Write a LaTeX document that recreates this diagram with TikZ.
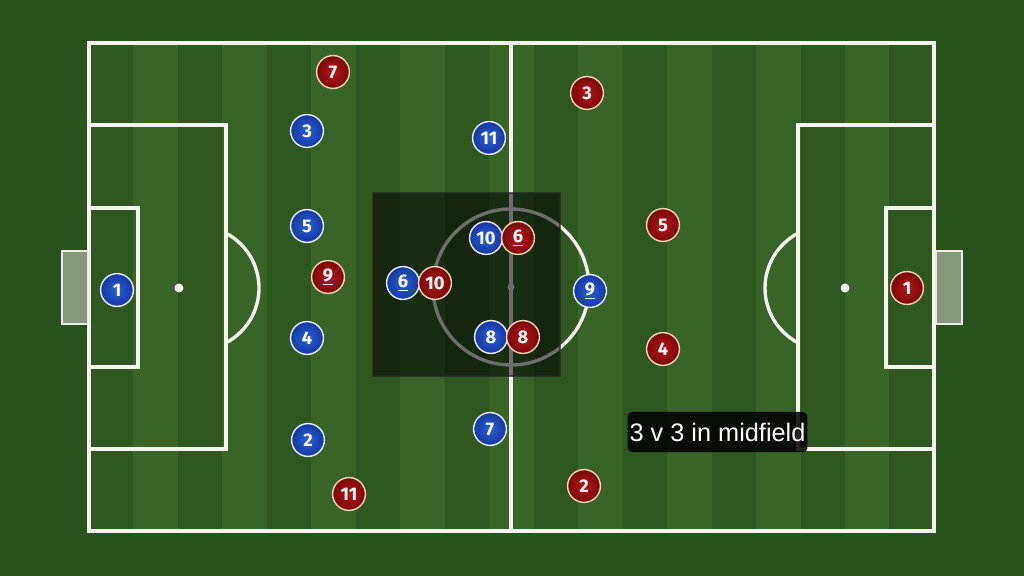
\documentclass[tikz,border=0pt]{standalone}
\usepackage{fontspec}
\setmainfont{Liberation Sans}
\newfontfamily\numfont{Fira Sans}
\definecolor{turf}{HTML}{2A521D}
\definecolor{turfdark}{HTML}{2E5820}
\definecolor{turflight}{HTML}{386428}
\definecolor{chalk}{HTML}{F4F6EE}
\definecolor{homein}{HTML}{2A5FD8}
\definecolor{homeout}{HTML}{1638A0}
\definecolor{awayin}{HTML}{B5141A}
\definecolor{awayout}{HTML}{7A0808}
\definecolor{awayrim}{HTML}{F1D3B6}

\begin{document}
\begin{tikzpicture}[x=0.025cm,y=-0.025cm,
    pitchline/.style={draw=chalk,line width=2.4pt},
    net/.style={draw=white!85!gray,line width=1pt,fill=white!90!gray,fill opacity=.45},
    player/.style={circle,minimum size=0.82cm,inner sep=0pt,line width=1pt,
        text=white,font=\numfont\bfseries\fontsize{13}{14}\selectfont},
    home/.style={player,draw=white!92!blue,inner color=homein,outer color=homeout},
    away/.style={player,draw=awayrim,inner color=awayin,outer color=awayout}]

    % grass
    \fill[turf] (0,0) rectangle (1024,576);
    \fill[turfdark] (89,43) rectangle (934,531);
    \foreach \i in {1,3,...,17}
        \fill[turflight] ({89+44.47*\i},43) rectangle ({89+44.47*(\i+1)},531);

    % markings
    \draw[pitchline] (89,43) rectangle (934,531);
    \draw[pitchline] (511,43) -- (511,531);
    \draw[pitchline] (511,287) circle[radius=78];
    \fill[chalk] (511,287) circle[radius=3.5];
    \draw[pitchline] (89,125) rectangle (226,449);
    \draw[pitchline] (89,208) rectangle (138,367);
    \draw[pitchline] (798,125) rectangle (934,449);
    \draw[pitchline] (886,208) rectangle (934,367);
    \fill[chalk] (179,288) circle[radius=4.5];
    \fill[chalk] (845,288) circle[radius=4.5];
    \begin{scope}
        \clip (226,0) rectangle (400,576);
        \draw[pitchline] (197,288) circle[radius=62];
    \end{scope}
    \begin{scope}
        \clip (600,0) rectangle (798,576);
        \draw[pitchline] (827,288) circle[radius=62];
    \end{scope}
    \draw[net] (62,251) rectangle (88,324);
    \draw[net] (936,251) rectangle (962,324);

    % midfield zone
    \fill[black,fill opacity=.55] (373,193) rectangle (560,376);
    \draw[black!85,draw opacity=.7,line width=1pt] (373,193) rectangle (560,376);

    % blue team
    \node (b1)  [home] at (117,290) {1};
    \node (b3)  [home] at (307,131) {3};
    \node (b5)  [home] at (307,226) {5};
    \node (b4)  [home] at (307,338) {4};
    \node (b2)  [home] at (308,440) {2};
    \node (b6)  [home] at (403,283) {\underline{6}};
    \node (b10) [home] at (486,238) {10};
    \node (b8)  [home] at (491,337) {8};
    \node (b11) [home] at (489,138) {11};
    \node (b7)  [home] at (490,429) {7};
    \node (b9)  [home] at (590,291) {\underline{9}};

    % red team
    \node (r7)  [away] at (333,72)  {7};
    \node (r9)  [away] at (328,277) {\underline{9}};
    \node (r11) [away] at (349,494) {11};
    \node (r10) [away] at (435,283) {10};
    \node (r6)  [away] at (518,238) {\underline{6}};
    \node (r8)  [away] at (523,337) {8};
    \node (r3)  [away] at (587,93)  {3};
    \node (r2)  [away] at (584,486) {2};
    \node (r5)  [away] at (663,225) {5};
    \node (r4)  [away] at (663,349) {4};
    \node (r1)  [away] at (907,288) {1};

    \node (tag) [fill=black,fill opacity=.85,text opacity=1,text=white,
        rounded corners=3pt,inner xsep=0.05cm,inner ysep=0pt,
        minimum height=1cm,font=\fontsize{18}{20}\selectfont]
        at (717.5,432) {3 v 3 in midfield};
\end{tikzpicture}
\end{document}
